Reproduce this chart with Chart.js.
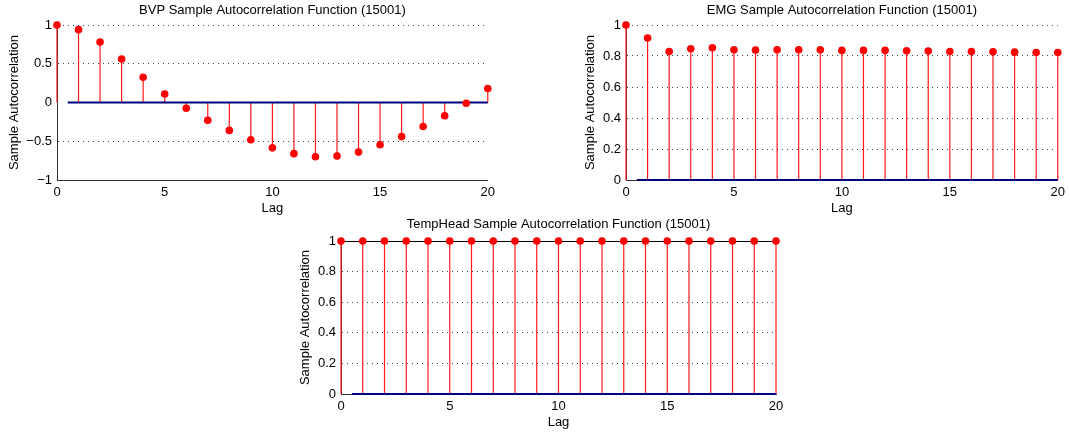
<!DOCTYPE html>
<html>
<head>
<meta charset="utf-8">
<script src="https://cdn.jsdelivr.net/npm/chart.js@4.4.1/dist/chart.umd.min.js"></script>
<style>
    body { margin: 0; background: #fff; width: 1070px; height: 436px; position: relative; overflow: hidden; }
    .box { position: absolute; }
</style>
</head>
<body>
<div class="box" style="left:0px;top:0px;"><canvas id="bvpChart" width="500" height="218"></canvas></div>
<div class="box" style="left:570px;top:0px;"><canvas id="emgChart" width="500" height="218"></canvas></div>
<div class="box" style="left:290px;top:210px;"><canvas id="tempChart" width="500" height="226"></canvas></div>
<script>
// lags and sample autocorrelation values
const lags = [0, 1, 2, 3, 4, 5, 6, 7, 8, 9, 10, 11, 12, 13, 14, 15, 16, 17, 18, 19, 20];
const bvpAcf = [1, 0.94, 0.78, 0.56, 0.325, 0.11, -0.075, -0.23, -0.36, -0.48, -0.585,
                -0.66, -0.70, -0.69, -0.64, -0.545, -0.44, -0.31, -0.17, -0.01, 0.18];
const emgAcf = [1, 0.916, 0.829, 0.847, 0.853, 0.840, 0.838, 0.840, 0.840, 0.840, 0.836,
                0.836, 0.836, 0.834, 0.832, 0.829, 0.829, 0.827, 0.825, 0.823, 0.823];
const tempHeadAcf = [1, 1, 1, 1, 1, 1, 1, 1, 1, 1, 1, 1, 1, 1, 1, 1, 1, 1, 1, 1, 1];

const lagTicks = [0, 5, 10, 15, 20];
const bvpTicks = [-1, -0.5, 0, 0.5, 1];
const unitTicks = [0, 0.2, 0.4, 0.6, 0.8, 1];
const baselineLags = [0.5, 20];

const FONT = "'Liberation Sans', Arial, Helvetica, sans-serif";
const FS = 13;

function stemPoints(values) {
    const pts = [];
    lags.forEach((lag, i) => {
        pts.push({x: lag, y: 0}, {x: lag, y: values[i]}, {x: lag, y: null});
    });
    return pts;
}

function fmt(v) {
    const s = String(Math.abs(v));
    return v < 0 ? '\u2212' + s : s;
}

function makeAcfChart(canvasId, o) {
    const ctx = document.getElementById(canvasId).getContext('2d');
    return new Chart(ctx, {
        type: 'line',
        data: {
            datasets: [{
                // markers
                type: 'scatter',
                data: lags.map((lag, i) => ({x: lag, y: o.values[i]})),
                pointRadius: 3.8,
                pointBackgroundColor: '#ff0000',
                pointBorderColor: '#ff0000',
                pointBorderWidth: 0,
                showLine: false,
                clip: false,
                order: 0
            }, {
                // zero line
                data: baselineLags.map(x => ({x: x, y: 0})),
                borderColor: '#000080',
                borderWidth: 2,
                pointRadius: 0,
                clip: false,
                order: 1
            }, {
                // stems
                data: stemPoints(o.values),
                borderColor: '#ff1a1a',
                borderWidth: 1.2,
                pointRadius: 0,
                spanGaps: false,
                clip: false,
                order: 2
            }]
        },
        options: {
            responsive: false,
            animation: false,
            events: [],
            layout: { padding: { left: 0, right: o.rightPad, top: 0, bottom: 0 } },
            plugins: {
                legend: { display: false },
                tooltip: { enabled: false },
                title: {
                    display: true,
                    text: o.title,
                    fullSize: false,
                    color: '#000',
                    font: { family: FONT, size: FS, weight: 'normal' },
                    padding: o.titlePad
                }
            },
            scales: {
                x: {
                    type: 'linear',
                    min: 0,
                    max: 20,
                    afterBuildTicks: s => { s.ticks = lagTicks.map(v => ({value: v})); },
                    afterFit: s => { s.height = o.xAxisHeight; },
                    grid: { display: false, drawTicks: false },
                    border: { display: true, color: '#333', width: 1 },
                    ticks: {
                        color: '#000',
                        padding: 5,
                        maxRotation: 0,
                        font: { family: FONT, size: FS },
                        callback: v => fmt(v)
                    },
                    title: {
                        display: true,
                        text: 'Lag',
                        color: '#000',
                        font: { family: FONT, size: FS },
                        padding: { top: 0, bottom: o.xTitlePad }
                    }
                },
                y: {
                    type: 'linear',
                    min: o.yTicks[0],
                    max: o.yTicks[o.yTicks.length - 1],
                    afterBuildTicks: s => { s.ticks = o.yTicks.map(v => ({value: v})); },
                    afterFit: s => { s.width = o.yAxisWidth; },
                    grid: {
                        drawTicks: false,
                        color: c => (o.solidTop && c.tick && c.tick.value === 1) ? '#000' : '#444',
                        lineWidth: c => (c.tick && c.tick.value === 0) ? 0 : 1
                    },
                    border: {
                        display: true,
                        color: '#333',
                        width: 1,
                        dash: c => (o.solidTop && c.tick && c.tick.value === 1) ? [] : [1, 4]
                    },
                    ticks: {
                        color: '#000',
                        padding: o.yTickPad,
                        font: { family: FONT, size: FS },
                        callback: v => fmt(v)
                    },
                    title: {
                        display: true,
                        text: 'Sample Autocorrelation',
                        color: '#000',
                        font: { family: FONT, size: FS },
                        padding: { top: o.yTitlePad, bottom: 0 }
                    }
                }
            }
        }
    });
}

makeAcfChart('bvpChart', {
    title: 'BVP Sample Autocorrelation Function (15001)',
    values: bvpAcf,
    yTicks: bvpTicks,
    rightPad: 10,
    titlePad: { top: 3, bottom: 6.4 },
    xAxisHeight: 38,
    xTitlePad: 2.2,
    yAxisWidth: 57,
    yTickPad: 5,
    yTitlePad: 6.2,
    solidTop: false
});

makeAcfChart('emgChart', {
    title: 'EMG Sample Autocorrelation Function (15001)',
    values: emgAcf,
    yTicks: unitTicks,
    rightPad: 10,
    titlePad: { top: 3, bottom: 6.4 },
    xAxisHeight: 38,
    xTitlePad: 2.2,
    yAxisWidth: 56,
    yTickPad: 5,
    yTitlePad: 12.2,
    solidTop: false
});

makeAcfChart('tempChart', {
    title: 'TempHead Sample Autocorrelation Function (15001)',
    values: tempHeadAcf,
    yTicks: unitTicks,
    rightPad: 14,
    titlePad: { top: 7, bottom: 8.4 },
    xAxisHeight: 42,
    xTitlePad: 6.2,
    yAxisWidth: 51,
    yTickPad: 5,
    yTitlePad: 7.2,
    solidTop: true
});
</script>
</body>
</html>
